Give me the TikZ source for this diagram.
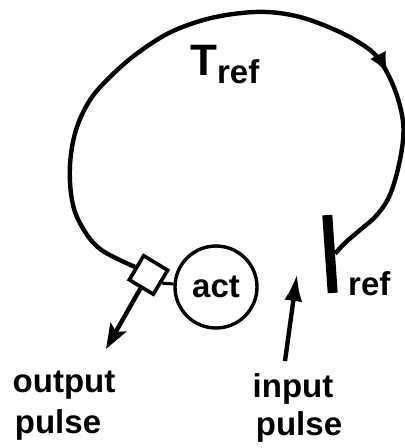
\documentclass[tikz,border=0pt]{standalone}
\usepackage{fontspec}
\setmainfont{Liberation Sans}
\usetikzlibrary{arrows.meta,decorations.markings}
\begin{document}
\begin{tikzpicture}[x=1pt,y=-1pt,
  lbl/.style={font=\fontsize{33}{33}\selectfont\bfseries, inner sep=0pt},
  loopline/.style={line width=4.4pt, line join=round,
    postaction={decorate},
    decoration={markings, mark=at position 0.726 with {\arrow{Latex[length=21pt,width=18pt]}}}},
  sigarrow/.style={line width=4.4pt}]
\useasboundingbox (0,0) rectangle (405,448);
% elements
\node[draw, line width=3.6pt, minimum size=28pt, rotate=-31, inner sep=0pt] (sq) at (148.5,275) {};
\node[circle, draw, line width=3.4pt, minimum size=82pt, lbl] (act) at (216,287) {act};
\node[fill=black, minimum width=10pt, minimum height=78pt, inner sep=0pt, rotate=4] (bar) at (330,254) {};
% labels
\node[lbl, anchor=base west] (tref) at (190,75) {{\fontsize{44}{44}\selectfont T}\raisebox{-8pt}{ref}};
\node[lbl, anchor=base west] (refl) at (348,295) {ref};
\node[lbl, anchor=base] (out1) at (64,392) {output};
\node[lbl, anchor=base] (out2) at (58,433) {pulse};
\node[lbl, anchor=base] (in1) at (293,397) {input};
\node[lbl, anchor=base] (in2) at (299,435) {pulse};
\coordinate (outtip) at (106,349);
\coordinate (intail) at (285,361);
\coordinate (intip) at (297,274);
% connectors
\draw[line width=3pt] (sq.east) -- (act);
\draw[loopline] plot[smooth, tension=0.6] coordinates {(sq.west) (100,249) (81,225) (72,200) (70,165) (76,130) (90,100) (110,77) (135,55) (167,34) (200,21) (233,14) (267,12) (300,17) (333,29) (360,43) (378,58) (393,85) (402,115) (403,140) (397,173) (388,199) (375,217) (360,230) (345,243) (bar.east)};
\draw[sigarrow, -{Stealth[length=25pt,width=18pt,inset=5pt]}] (sq.south) -- (outtip);
\draw[sigarrow, -{Latex[length=27pt,width=18pt]}] (intail) -- (intip);
\end{tikzpicture}
\end{document}
